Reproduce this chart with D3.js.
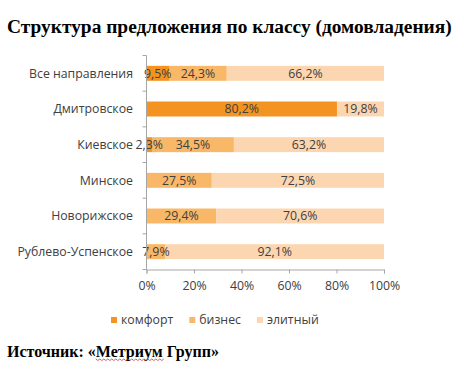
<!DOCTYPE html>
<html><head><meta charset="utf-8">
<script src="https://cdn.jsdelivr.net/npm/d3@7"></script>
<style>body{margin:0;background:#fff}svg{display:block}</style>
</head><body>
<svg id="c" width="464" height="372"></svg>
<script>
const categories = ["Все направления","Дмитровское","Киевское","Минское","Новорижское","Рублево-Успенское"];
const seriesNames = ["комфорт","бизнес","элитный"];
const komfort = [9.5, 80.2, 2.3, 0, 0, 0];
const biznes = [24.3, 0, 34.5, 27.5, 29.4, 7.9];
const elitny = [66.2, 19.8, 63.2, 72.5, 70.6, 92.1];
const xTicks = [0, 20, 40, 60, 80, 100];
const colors = ["#F39422", "#F9B867", "#FCD6B1"];
const title = "Структура предложения по классу (домовладения)";
const sourcePre = "Источник: «";
const sourceName = "Метриум";
const sourcePost = " Групп»";

const svg = d3.select("#c");
const labelFont = "'Open Sans', sans-serif";
const textColor = "#404040";
const axisColor = "#A6A6A6";

svg.append("text").attr("x", 7).attr("y", 33)
  .style("font-family", "'Liberation Serif', serif").style("font-weight", "bold").style("font-size", "19.4px")
  .attr("fill", "#000").text(title);

const x = d3.scaleLinear().domain([0, 100]).range([146.5, 384]);
const y = d3.scaleBand().domain(categories).range([55.5, 269.5]).paddingInner(0.58).paddingOuter(0.29);

const data = categories.map((c, i) => ({cat: c, vals: [komfort[i], biznes[i], elitny[i]]}));
const segs = [];
data.forEach(d => { let acc = 0; d.vals.forEach((v, k) => { segs.push({cat: d.cat, k, x0: acc, x1: acc + v, v}); acc += v; }); });

const g = svg.append("g");
g.selectAll("rect.seg").data(segs.filter(s => s.v > 0)).join("rect")
  .attr("x", s => x(s.x0)).attr("width", s => x(s.x1) - x(s.x0))
  .attr("y", s => y(s.cat)).attr("height", y.bandwidth())
  .attr("fill", s => colors[s.k]);

g.selectAll("text.lbl").data(segs.filter(s => s.v > 0)).join("text")
  .attr("x", s => (x(s.x0) + x(s.x1)) / 2).attr("y", s => y(s.cat) + y.bandwidth() / 2)
  .attr("dy", "0.36em").attr("text-anchor", "middle")
  .style("font-family", labelFont).style("font-size", "12.3px").attr("fill", textColor)
  .text(s => s.v.toFixed(1).replace(".", ",") + "%");

// y axis
const yStep = y.step();
const yAxisG = svg.append("g");
yAxisG.append("line").attr("x1", x(0)).attr("x2", x(0)).attr("y1", 55.5).attr("y2", 269.5).attr("stroke", axisColor);
d3.range(categories.length + 1).forEach(i => {
  const yy = 55.5 + i * yStep;
  yAxisG.append("line").attr("x1", x(0) - 4).attr("x2", x(0)).attr("y1", yy).attr("y2", yy).attr("stroke", axisColor);
});
yAxisG.selectAll("text").data(categories).join("text")
  .attr("x", 133).attr("y", c => y(c) + y.bandwidth() / 2).attr("dy", "0.36em").attr("text-anchor", "end")
  .style("font-family", labelFont).style("font-size", "12.3px").attr("fill", textColor).text(c => c);

// x axis
const xAxis = d3.axisBottom(x).tickValues(xTicks).tickFormat(d => d + "%").tickSize(4).tickPadding(8);
const xg = svg.append("g").attr("transform", "translate(0,269.5)").call(xAxis);
xg.select(".domain").attr("stroke", axisColor);
xg.selectAll(".tick line").attr("stroke", axisColor);
xg.selectAll(".tick text").style("font-family", labelFont).style("font-size", "12.3px").attr("fill", textColor);

// legend
const leg = svg.append("g");
let lx = 111;
seriesNames.forEach((n, k) => {
  leg.append("rect").attr("x", lx).attr("y", 317).attr("width", 6).attr("height", 6).attr("fill", colors[k]);
  const t = leg.append("text").attr("x", lx + 10).attr("y", 320).attr("dy", "0.36em")
    .style("font-family", labelFont).style("font-size", "12.3px").attr("fill", textColor).text(n);
  lx += 10 + t.node().getComputedTextLength() + 16;
});

// source
const src = svg.append("text").attr("x", 7).attr("y", 357)
  .style("font-family", "'Liberation Serif', serif").style("font-weight", "bold").style("font-size", "16px").attr("fill", "#000");
src.append("tspan").text(sourcePre);
src.append("tspan").text(sourceName);
src.append("tspan").text(sourcePost);
const node = src.node();
const s0 = node.getSubStringLength(0, sourcePre.length);
const s1 = node.getSubStringLength(sourcePre.length, sourceName.length);
let p = "M" + (7 + s0) + ",359";
for (let xx = 7 + s0, i = 0; xx < 7 + s0 + s1; xx += 2, i++) p += "L" + (xx + 2) + "," + (i % 2 ? 359 : 360.5);
svg.append("path").attr("d", p).attr("fill", "none").attr("stroke", "#E03030").attr("stroke-width", 0.8);
</script>
</body></html>
